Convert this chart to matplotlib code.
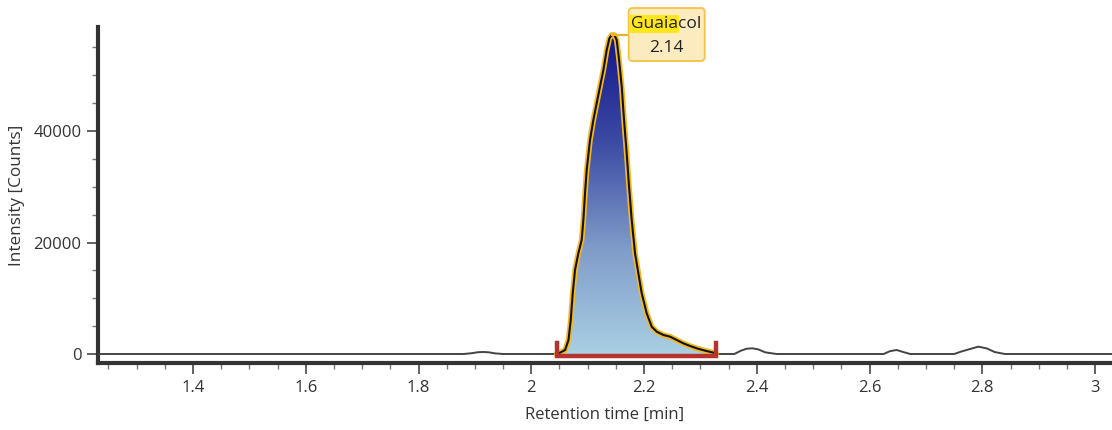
import numpy as np
import matplotlib
matplotlib.use("Agg")
import matplotlib.pyplot as plt
from matplotlib.patches import FancyBboxPatch, Polygon
from matplotlib.ticker import MultipleLocator
from matplotlib.colors import LinearSegmentedColormap

plt.rcParams['font.family'] = ['Open Sans', 'DejaVu Sans']

# ---- data ----
time_min = [1.23, 1.88, 1.895, 1.905, 1.915, 1.925, 1.935, 1.95,
            2.045, 2.051, 2.060, 2.066, 2.070, 2.0735, 2.0776, 2.0835, 2.0894, 2.0924,
            2.0953, 2.0983, 2.1042, 2.1101, 2.1160, 2.1219, 2.1279, 2.1338, 2.1385,
            2.1426, 2.1474, 2.1515, 2.1557, 2.1604, 2.1645, 2.1692, 2.1734, 2.1781,
            2.1840, 2.1899, 2.1959, 2.2047, 2.2136, 2.2225, 2.2343, 2.2461, 2.2580,
            2.2698, 2.2816, 2.2934, 2.3082, 2.3230, 2.328,
            2.36, 2.372, 2.382, 2.392, 2.402, 2.415, 2.435,
            2.625, 2.636, 2.648, 2.66, 2.672,
            2.75, 2.762, 2.775, 2.793, 2.808, 2.822, 2.84, 3.03]
intensity = [0, 0, 150, 320, 360, 300, 120, 0,
             0, 240, 720, 2510, 6100, 10880, 15070, 18060, 20450, 24040,
             28820, 33000, 38390, 41970, 44960, 47950, 50940, 54530, 56620,
             57220, 57220, 56320, 52740, 47950, 41970, 35990, 30020, 24040,
             18060, 14470, 10880, 7290, 4900, 4000, 3410, 3110, 2510,
             1910, 1440, 1020, 600, 240, 0,
             0, 600, 950, 1020, 850, 300, 0,
             0, 500, 720, 350, 0,
             0, 420, 800, 1320, 1000, 350, 0, 0]
peak_name = "Guaiacol"
peak_rt_label = "2.14"
integration_window = [2.045, 2.328]

x_ticks = [1.4, 1.6, 1.8, 2, 2.2, 2.4, 2.6, 2.8, 3]
x_tick_labels = ["1.4", "1.6", "1.8", "2", "2.2", "2.4", "2.6", "2.8", "3"]
y_ticks = [0, 20000, 40000]
y_tick_labels = ["0", "20000", "40000"]

t = np.array(time_min)
I = np.array(intensity)

fig = plt.figure(figsize=(11.12, 4.30), dpi=100)
ax = fig.add_axes([98/1112, (430-363)/430, 1 - 98/1112, (363-27)/430])
ax.set_xlim(1.2315, 3.030)
ax.set_ylim(-1614, 58655)

# baseline trace
ax.plot(t, I, color='#444444', lw=1.4, zorder=3)

# peak region
in_pk = (t >= integration_window[0]) & (t <= integration_window[1])
tp, Ip = t[in_pk], I[in_pk]
poly_xy = np.column_stack([np.r_[tp, tp[-1], tp[0]], np.r_[Ip, 0, 0]])
poly = Polygon(poly_xy, closed=True, facecolor='none', edgecolor='none')
ax.add_patch(poly)
cmap = LinearSegmentedColormap.from_list('g', ['#a9cfe3', '#7f9bc9', '#3b4aa3', '#14168a'])
grad = np.linspace(0, 1, 256).reshape(-1, 1)
im = ax.imshow(grad, cmap=cmap, origin='lower', aspect='auto',
               extent=[tp.min(), tp.max(), 0, Ip.max()], zorder=2)
im.set_clip_path(poly)
ax.plot(tp, Ip, color='#f5b820', lw=4.0, zorder=4, solid_capstyle='round',
        solid_joinstyle='round')
ax.plot(tp, Ip, color='#111111', lw=1.5, zorder=5, solid_joinstyle='round')

# integration bracket
ax.plot([integration_window[0], integration_window[0], integration_window[1], integration_window[1]],
        [1900, -350, -350, 1900], color='#b5332e', lw=3.2, zorder=6,
        solid_joinstyle='miter', clip_on=False)

# axes styling
for s in ['top', 'right']:
    ax.spines[s].set_visible(False)
for s in ['left', 'bottom']:
    ax.spines[s].set_linewidth(3)
    ax.spines[s].set_color('#333333')
ax.set_xticks(x_ticks)
ax.set_xticklabels(x_tick_labels)
ax.set_yticks(y_ticks)
ax.set_yticklabels(y_tick_labels)
ax.xaxis.set_minor_locator(MultipleLocator(0.05))
ax.yaxis.set_minor_locator(MultipleLocator(5000))
ax.tick_params(which='major', length=8, width=1.3, color='#555555', labelsize=12,
               labelcolor='#333333', pad=4)
ax.tick_params(which='minor', length=4, width=1.0, color='#777777')
ax.set_xlabel("Retention time [min]", fontsize=12, color='#333333', labelpad=8)
ax.set_ylabel("Intensity [Counts]", fontsize=12.3, color='#333333', labelpad=6)

# peak label
fig.canvas.draw()
k = int(np.argmax(I))
px, py = ax.transData.transform((t[k], I[k]))
ax.plot([t[k], ax.transData.inverted().transform((px + 17, py))[0]], [I[k], I[k]],
        color='#f0b030', lw=1.5, zorder=6, clip_on=False)
box = FancyBboxPatch((px + 17, py - 26), 76, 53, boxstyle='round,pad=0,rounding_size=4',
                     transform=None, facecolor='#fdebc0', edgecolor='#f5c242', lw=1.3,
                     zorder=7, clip_on=False)
fig.patches.append(box)
t1 = fig.text((px + 19) / 1112, (py + 11) / 430, "Guaia", fontsize=12.5, color='#222222',
              ha='left', va='center', zorder=8,
              bbox=dict(facecolor='#ffe61a', edgecolor='none', pad=0.08, boxstyle='square'))
fig.canvas.draw()
bb = t1.get_window_extent()
fig.text((bb.x1) / 1112, (py + 11) / 430, "col", fontsize=12.5, color='#222222',
         ha='left', va='center', zorder=8)
fig.text((px + 55) / 1112, (py - 13) / 430, peak_rt_label, fontsize=12.5, color='#222222',
         ha='center', va='center', zorder=8)

fig.savefig("out.png", dpi=100)
